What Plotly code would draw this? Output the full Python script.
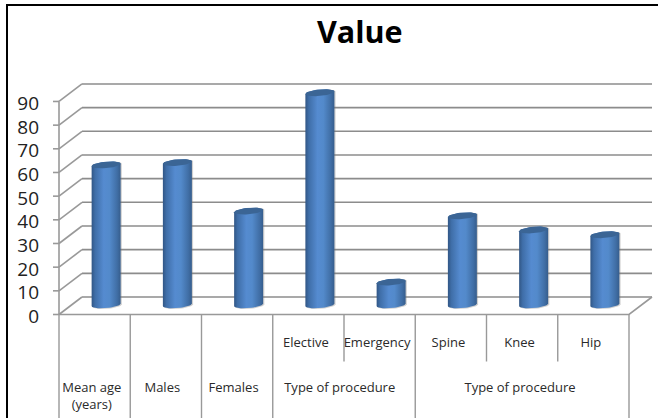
import numpy as np
import plotly.graph_objects as go

categories = ["Mean age", "Males", "Females", "Elective", "Emergency", "Spine", "Knee", "Hip"]
values = [59.5, 60.5, 40, 90, 10, 38, 32, 30]
y_ticks = [0, 10, 20, 30, 40, 50, 60, 70, 80, 90]
upper_labels = ["Elective", "Emergency", "Spine", "Knee", "Hip"]
upper_pos = [3.5, 4.5, 5.5, 6.5, 7.5]
lower_labels = ["Mean age", "(years)", "Males", "Females", "Type of procedure", "Type of procedure"]
lower_pos = [0.46, 0.46, 1.45, 2.45, 3.94, 6.47]
lower_rows = [-74, -91.5, -74, -74, -74, -74]
chart_title = "Value"

W, H = 658, 418
X0, PX_X = 59.0, 71.25      # px of category 0 edge, px per category
Y0, PX_Y = 314.5, 2.367     # px of value 0, px per unit
DX, DY = 23 / PX_X, 17.5 / PX_Y  # depth offset in axis units
GRID = "#8c8c8c"
FRONT = "#999999"

x_range = [-X0 / PX_X, (W - X0) / PX_X]
y_range = [-(H - Y0) / PX_Y, Y0 / PX_Y]
n = len(categories)

fig = go.Figure()


def line(xs, ys, color=GRID, width=1.6):
    fig.add_trace(go.Scatter(x=xs, y=ys, mode="lines", hoverinfo="skip",
                             line=dict(color=color, width=width), showlegend=False))


# back wall gridlines and left wall diagonals
for t in y_ticks:
    line([DX, n + DX], [t + DY, t + DY])
    line([0, DX], [t, t + DY], FRONT)
    line([-6 / PX_X, 0], [t, t], FRONT)
line([0, 0], [0, max(y_ticks)], FRONT)
# floor
line([0, n, n + DX], [0, 0, DY], FRONT)

# table under the axis
for i in range(n + 1):
    bottom = y_range[0]
    if i in (4, 6, 7):
        bottom = -47 / PX_Y
    line([i, i], [0, bottom], FRONT, 1.4)

# cylinders
half_w = 14.5 / PX_X
ry = 3.2 / PX_Y
tilt = 1.2 / PX_Y
t_lo = np.linspace(np.pi, 2 * np.pi, 24)
t_up = np.linspace(0, np.pi, 24)
for i, v in enumerate(values):
    cx = i + 0.5 + DX / 2
    base = DY / 2 + 0.35
    top = v + DY / 2
    bx = cx + half_w * np.cos(t_lo)
    by = base + ry * np.sin(t_lo) + tilt * np.cos(t_lo)
    tx = cx + half_w * np.cos(t_up)
    ty = top + ry * np.sin(t_up) + tilt * np.cos(t_up)
    # shadow
    fig.add_trace(go.Scatter(
        x=np.r_[bx + 1.2 / PX_X, tx + 1.2 / PX_X], y=np.r_[by - 0.7 / PX_Y, ty], mode="lines",
        fill="toself", fillcolor="rgba(120,120,120,0.35)", line=dict(width=0),
        hoverinfo="skip", showlegend=False))
    fig.add_trace(go.Scatter(
        x=np.r_[bx, tx], y=np.r_[by, ty], mode="lines", fill="toself", line=dict(width=0),
        fillgradient=dict(type="horizontal", colorscale=[
            [0, "#315685"], [0.12, "#3f6ea8"], [0.42, "#558bd0"], [0.62, "#538acb"],
            [0.88, "#406ea5"], [1, "#365d8c"]]),
        name=categories[i], showlegend=False,
        hovertemplate=categories[i] + ": %{text}<extra></extra>", text=[v] * (len(bx) * 2)))
    # top ellipse
    ang = np.linspace(0, 2 * np.pi, 48)
    fig.add_trace(go.Scatter(
        x=cx + half_w * np.cos(ang), y=top + ry * np.sin(ang) + tilt * np.cos(ang), mode="lines",
        fill="toself", fillcolor="#3b6595", line=dict(width=0), hoverinfo="skip", showlegend=False))

# category labels
label_font = dict(family="Open Sans", size=13, color="#2a2a2a")
fig.add_trace(go.Scatter(
    x=[p - 0.035 for p in upper_pos], y=[-29 / PX_Y] * len(upper_pos),
    text=upper_labels, mode="text", textfont=label_font,
    hoverinfo="skip", showlegend=False))
fig.add_trace(go.Scatter(
    x=lower_pos, y=[r / PX_Y for r in lower_rows],
    text=lower_labels, mode="text", textfont=label_font,
    hoverinfo="skip", showlegend=False))

fig.update_layout(
    width=W, height=H, margin=dict(l=0, r=0, t=0, b=0), autosize=False,
    paper_bgcolor="white", plot_bgcolor="white",
    xaxis=dict(range=x_range, visible=False, fixedrange=True, domain=[0, 1]),
    yaxis=dict(range=y_range, showgrid=False, zeroline=False, fixedrange=True, domain=[0, 1],
               anchor="free", position=(X0 - 20) / W, side="left", tickmode="array",
               tickvals=y_ticks, ticktext=[str(t) for t in y_ticks], ticks="", showline=False,
               ticklabelshift=2,
               tickfont=dict(family="Open Sans", size=19, color="#222222")),
    annotations=[dict(text="<b>%s</b>" % chart_title, xref="paper", yref="paper",
                      x=360 / W, y=1 - 31 / H, yanchor="middle", showarrow=False,
                      font=dict(family="Open Sans", size=30.5, color="black"))],
    shapes=[dict(type="line", xref="paper", yref="paper", x0=7 / W, x1=7 / W, y0=0, y1=1 - 5 / H,
                 line=dict(color="black", width=2)),
            dict(type="line", xref="paper", yref="paper", x0=6 / W, x1=1, y0=1 - 5 / H, y1=1 - 5 / H,
                 line=dict(color="black", width=2))],
)
fig.write_html("out.html", config={"displayModeBar": False},
               post_script="document.body.style.margin='0';document.documentElement.style.overflow='hidden';")
